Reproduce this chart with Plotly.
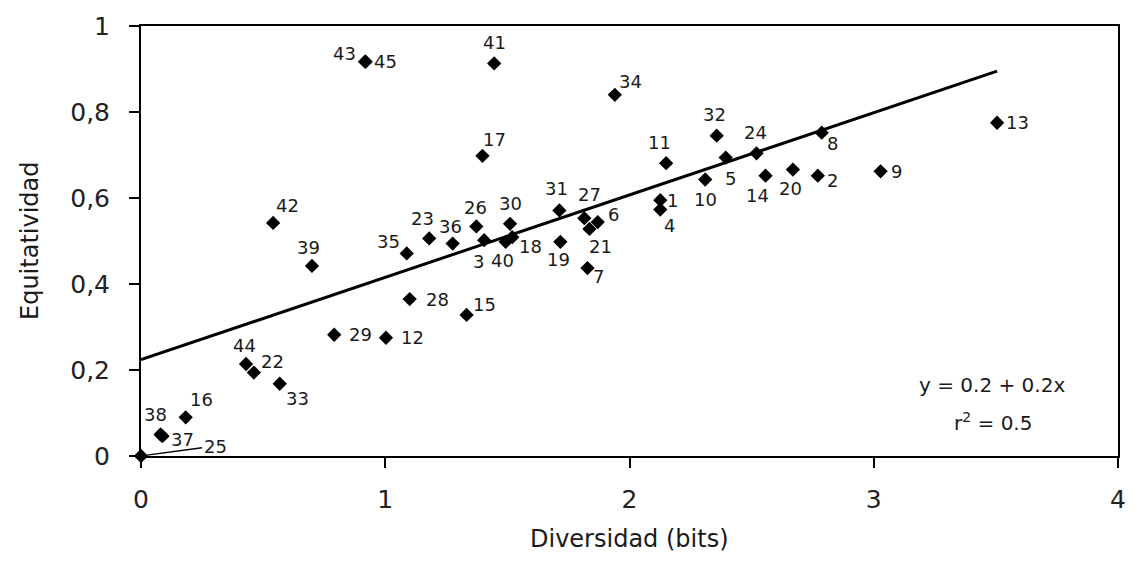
import numpy as np
import plotly.graph_objects as go

# Sampling sites: Shannon diversity (bits) and evenness
site_ids = [1, 2, 3, 4, 5, 6, 7, 8, 9, 10, 11, 12, 13, 14, 15, 16, 17, 18, 19, 20,
            21, 22, 23, 24, 25, 26, 27, 28, 29, 30, 31, 32, 33, 34, 35, 36, 37, 38,
            39, 40, 41, 42, 43, 44, 45]
diversidad = [2.126, 2.771, 1.405, 2.126, 2.394, 1.870, 1.828, 2.787, 3.028, 2.310,
              2.150, 1.003, 3.505, 2.557, 1.333, 0.183, 1.398, 1.520, 1.717, 2.669,
              1.836, 0.462, 1.180, 2.520, 0.000, 1.373, 1.815, 1.100, 0.791, 1.511,
              1.713, 2.357, 0.568, 1.940, 1.088, 1.276, 0.088, 0.080, 0.700, 1.493,
              1.446, 0.541, 0.917, 0.430, 0.920]
equitatividad = [0.595, 0.652, 0.502, 0.573, 0.694, 0.544, 0.437, 0.752, 0.662, 0.643,
                 0.681, 0.275, 0.775, 0.652, 0.328, 0.090, 0.698, 0.509, 0.498, 0.666,
                 0.528, 0.194, 0.506, 0.704, 0.000, 0.534, 0.553, 0.365, 0.282, 0.540,
                 0.571, 0.745, 0.168, 0.840, 0.471, 0.494, 0.046, 0.050, 0.442, 0.498,
                 0.913, 0.542, 0.917, 0.214, 0.917]

x_ticks = [0, 1, 2, 3, 4]
y_ticks = [0, 0.2, 0.4, 0.6, 0.8, 1.0]

# Label placement around each marker, in screen pixels (dx right, dy down)
label_offsets = {
    1: (12, 0), 2: (15, 5), 3: (-6, 21), 4: (9, 16), 5: (5, 21), 6: (16, -8),
    7: (11, 8), 8: (11, 11), 9: (16, 0), 10: (0, 20), 11: (-7, -21), 12: (27, 0),
    13: (20, 0), 14: (-8, 20), 15: (18, -10), 16: (16, -18), 17: (12, -16),
    18: (18, 9), 19: (-2, 18), 20: (-2, 19), 21: (11, 18), 22: (19, -11),
    23: (-7, -20), 24: (-1, -21), 26: (-1, -19), 27: (5, -24), 28: (28, 0),
    29: (26, 0), 30: (0, -20), 31: (-3, -22), 32: (-2, -21), 33: (18, 15),
    34: (16, -13), 35: (-18, -12), 36: (-2, -17), 37: (20, 3), 38: (-5, -20),
    39: (-3, -18), 40: (-3, 19), 41: (0, -21), 42: (14, -17), 43: (-20, -8),
    44: (-2, -18), 45: (20, 0),
}

FONT = "DejaVu Sans"
INK = "#1a1a1a"

x = np.array(diversidad)
y = np.array(equitatividad)

# Least-squares fit of evenness on diversity
slope, intercept = np.polyfit(x, y, 1)
pred = intercept + slope * x
r2 = 1 - np.sum((y - pred) ** 2) / np.sum((y - y.mean()) ** 2)
x_fit = np.array([x.min(), x.max()])
y_fit = intercept + slope * x_fit

fig = go.Figure()
fig.add_trace(go.Scatter(
    x=x_fit, y=y_fit, mode="lines",
    line=dict(color="black", width=3),
    hoverinfo="skip", showlegend=False,
))
fig.add_trace(go.Scatter(
    x=diversidad, y=equitatividad, mode="markers",
    marker=dict(symbol="diamond", size=11, color="black"),
    text=[str(s) for s in site_ids],
    cliponaxis=False, showlegend=False,
))

annotations = []
for sid, xv, yv in zip(site_ids, diversidad, equitatividad):
    if sid not in label_offsets:
        continue
    dx, dy = label_offsets[sid]
    annotations.append(dict(
        x=xv, y=yv, xref="x", yref="y", text=str(sid), showarrow=False,
        xshift=dx, yshift=-dy, font=dict(family=FONT, size=18, color=INK),
    ))

# Site 25 sits on the origin: label it with a leader line
i25 = site_ids.index(25)
annotations.append(dict(
    x=diversidad[i25], y=equitatividad[i25], xref="x", yref="y", text="25",
    showarrow=True, arrowhead=0, arrowwidth=1.3, arrowcolor="black",
    ax=74, ay=-10, standoff=6, font=dict(family=FONT, size=18, color=INK),
))

# Regression equation
annotations.append(dict(
    x=3.484, y=0.164, xref="x", yref="y", showarrow=False,
    text=f"y = {intercept:.1f} + {slope:.1f}x",
    font=dict(family=FONT, size=20, color=INK),
))
annotations.append(dict(
    x=3.488, y=0.079, xref="x", yref="y", showarrow=False,
    text=f"r<sup>2</sup> = {r2:.1f}",
    font=dict(family=FONT, size=20, color=INK),
))

# Axis titles
annotations.append(dict(
    x=0.5, y=0, xref="paper", yref="paper", yanchor="middle", yshift=-83,
    text="Diversidad (bits)", showarrow=False,
    font=dict(family=FONT, size=24, color=INK),
))
annotations.append(dict(
    x=0, y=0.5, xref="paper", yref="paper", xanchor="center", xshift=-111,
    text="Equitatividad", textangle=-90, showarrow=False,
    font=dict(family=FONT, size=24, color=INK),
))

axis_common = dict(
    showline=True, linecolor="black", linewidth=2, mirror=True,
    ticks="outside", ticklen=10, tickwidth=2, tickcolor="black",
    showgrid=False, zeroline=False,
    tickfont=dict(family=FONT, size=25, color="#222"),
)

fig.update_layout(
    width=1138, height=562,
    margin=dict(l=141, r=14, t=24, b=106),
    paper_bgcolor="white", plot_bgcolor="white",
    separators=",.",
    xaxis=dict(range=[0, 4], tickvals=x_ticks, ticklabelstandoff=10, **axis_common),
    yaxis=dict(range=[0, 1], tickvals=y_ticks, ticklabelstandoff=14, **axis_common),
    annotations=annotations,
    showlegend=False,
)

fig.write_html("out.html")
